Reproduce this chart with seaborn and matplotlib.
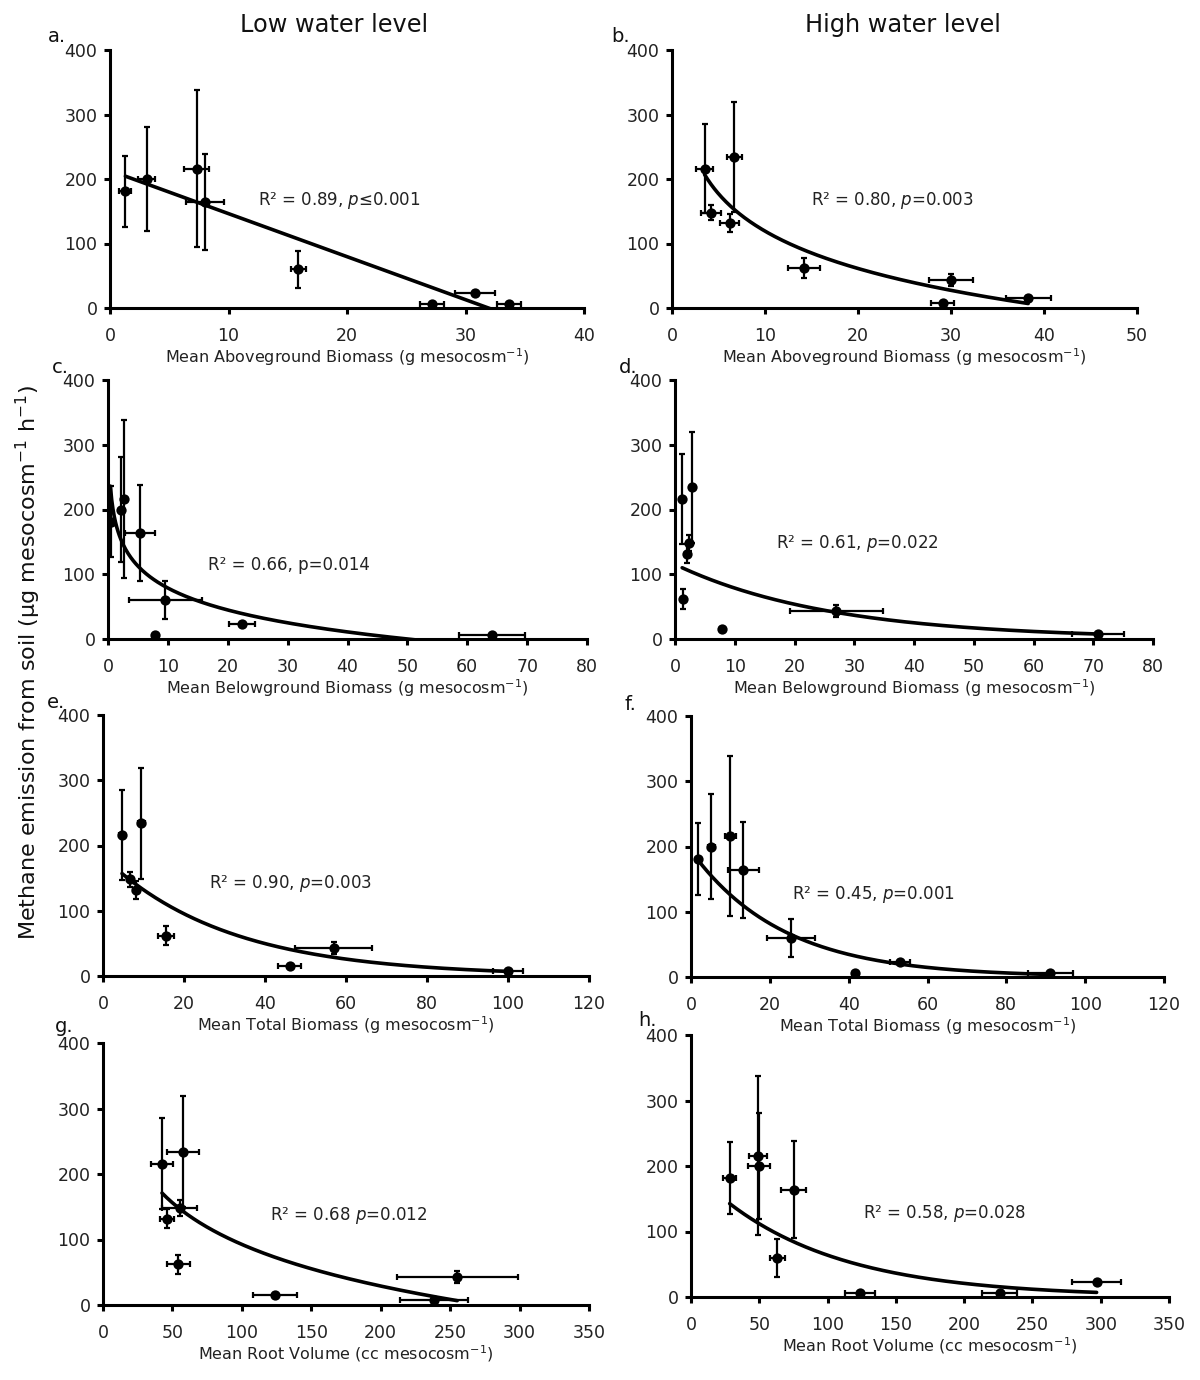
import numpy as np
import matplotlib
matplotlib.use("Agg")
import matplotlib.pyplot as plt
import seaborn as sns

# Methane emission means (same 8 treatments in every panel)
y_low = [181, 200, 216, 164, 60, 6, 23, 6]
y_low_err = [55, 81, 122, 74, 29, 2, 3, 2]
y_high = [216, 234, 148, 132, 62, 16, 43, 7]
y_high_err = [69, 85, 12, 14, 15, 2, 9, 2]

# x values per panel (a..h), in the order of the y arrays
x_a = [1.3, 3.1, 7.3, 8.0, 15.9, 27.2, 30.8, 33.7]
xe_a = [0.5, 0.7, 1.05, 1.6, 0.6, 1.0, 1.7, 1.0]
x_b = [3.5, 6.7, 4.2, 6.2, 14.2, 38.3, 30.0, 29.1]
xe_b = [0.95, 0.8, 1.1, 1.0, 1.7, 2.4, 2.4, 1.2]
x_c = [0.5, 2.1, 2.7, 5.3, 9.6, 7.9, 22.4, 64.2]
xe_c = [0.3, 0.3, 0.3, 2.5, 6.1, 0.2, 2.2, 5.5]
x_d = [1.2, 2.9, 2.4, 2.0, 1.4, 7.8, 27.0, 70.8]
xe_d = [0.2, 0.3, 0.3, 0.3, 0.2, 0.2, 7.8, 4.4]
x_e = [4.7, 9.5, 6.6, 8.1, 15.6, 46.1, 57.0, 100.1]
xe_e = [0.7, 0.8, 0.6, 0.8, 1.9, 2.8, 9.5, 3.7]
x_f = [1.8, 5.2, 10.0, 13.3, 25.4, 41.5, 53.0, 91.2]
xe_f = [0.6, 0.8, 1.3, 4.0, 6.1, 0.3, 2.5, 5.7]
x_g = [42.5, 57.4, 55.2, 46.1, 54.3, 124, 255.1, 238.3]
xe_g = [7.8, 11.4, 12.5, 5.2, 8.2, 16, 43.6, 24.4]
x_h = [28.3, 49.5, 48.8, 75.1, 63.2, 123.9, 297, 225.9]
xe_h = [4.9, 8.0, 6.6, 9.3, 5.7, 11, 18, 12.6]

panel_x = [x_a, x_b, x_c, x_d, x_e, x_f, x_g, x_h]
panel_xe = [xe_a, xe_b, xe_c, xe_d, xe_e, xe_f, xe_g, xe_h]
panel_y = [y_low, y_high, y_low, y_high, y_high, y_low, y_high, y_low]
panel_ye = [y_low_err, y_high_err, y_low_err, y_high_err,
            y_high_err, y_low_err, y_high_err, y_low_err]

# trendlines: lin y=a*x+b, log y=a*ln(x)+b, exp y=a*exp(b*x)
fit_kind = ['lin', 'log', 'log', 'exp', 'exp', 'exp', 'log', 'exp']
fit_a = [-6.67, -83.6, -48.9, 115.2, 183, 193.4, -91.7, 195.8]
fit_b = [213, 311.7, 191.3, -0.0382, -0.0326, -0.043, 514.8, -0.01121]
fit_range = [(1.3, 33.7), (3.5, 38.3), (0.4, 64.2), (1.2, 70.8),
             (4.7, 100.1), (1.8, 91.2), (42.5, 255.1), (28.3, 297)]

stats = [r"R² = 0.89, $\mathit{p}$≤0.001", r"R² = 0.80, $\mathit{p}$=0.003",
         "R² = 0.66, p=0.014", r"R² = 0.61, $\mathit{p}$=0.022",
         r"R² = 0.90, $\mathit{p}$=0.003", r"R² = 0.45, $\mathit{p}$=0.001",
         r"R² = 0.68 $\mathit{p}$=0.012", r"R² = 0.58, $\mathit{p}$=0.028"]
stat_pos = [(12.5, 167), (14.9, 167), (16.7, 115), (16.9, 148),
            (26.1, 141), (25.6, 127), (120, 136), (125.6, 127)]

letters = ['a.', 'b.', 'c.', 'd.', 'e.', 'f.', 'g.', 'h.']
xlabels = [r"Mean Aboveground Biomass (g mesocosm$^{-1}$)"] * 2 + \
          [r"Mean Belowground Biomass (g mesocosm$^{-1}$)"] * 2 + \
          [r"Mean Total Biomass (g mesocosm$^{-1}$)"] * 2 + \
          [r"Mean Root Volume (cc mesocosm$^{-1}$)"] * 2
x_max = [40, 50, 80, 80, 120, 120, 350, 350]
x_step = [10, 10, 10, 10, 20, 20, 50, 50]

# axes boxes in pixels: left, top, right, bottom
W, H = 1200, 1380
boxes = [(110, 50, 584, 308), (672, 50, 1137, 308),
         (108, 380, 587, 639), (675, 380, 1153, 639),
         (103, 715, 589, 976), (691, 716, 1164, 977),
         (103, 1043, 589, 1305), (691, 1035, 1169, 1297)]
letter_pos = [(57, 37), (621, 37), (60, 368), (628, 368),
              (56, 703), (630, 704), (64, 1026), (647, 1020)]

sns.set_style("ticks")
plt.rcParams['font.family'] = ['DejaVu Sans']
plt.rcParams['mathtext.fontset'] = 'dejavusans'

fig = plt.figure(figsize=(12, 13.8), dpi=100)

for i in range(8):
    l, t, r, b = boxes[i]
    ax = fig.add_axes([l / W, 1 - b / H, (r - l) / W, (b - t) / H])

    # trendline
    lo, hi = fit_range[i]
    xx = np.linspace(lo, hi, 300)
    if fit_kind[i] == 'lin':
        yy = fit_a[i] * xx + fit_b[i]
    elif fit_kind[i] == 'log':
        yy = fit_a[i] * np.log(xx) + fit_b[i]
    else:
        yy = fit_a[i] * np.exp(fit_b[i] * xx)
    sns.lineplot(x=xx, y=yy, ax=ax, color='black', linewidth=2.6,
                 sort=False, estimator=None, zorder=2)

    ax.errorbar(panel_x[i], panel_y[i], xerr=panel_xe[i], yerr=panel_ye[i],
                fmt='none', ecolor='black', elinewidth=1.6, capsize=2.5,
                capthick=1.6, zorder=3)
    sns.scatterplot(x=panel_x[i], y=panel_y[i], ax=ax, color='black', s=55,
                    linewidth=0, zorder=4, legend=False)

    ax.text(stat_pos[i][0], stat_pos[i][1], stats[i], fontsize=12,
            ha='left', va='center', color='#222222')

    ax.set_xlim(0, x_max[i])
    ax.set_ylim(0, 400)
    ax.set_xticks(np.arange(0, x_max[i] + 1, x_step[i]))
    ax.set_yticks([0, 100, 200, 300, 400])
    sns.despine(ax=ax)
    for s in ['left', 'bottom']:
        ax.spines[s].set_linewidth(2.2)
        ax.spines[s].set_color('black')
    ax.tick_params(axis='both', length=4, width=2.2, labelsize=12.5,
                   labelcolor='#222222', color='black')
    ax.tick_params(axis='x', pad=9.5)
    ax.tick_params(axis='y', pad=5)
    ax.set_xlabel(xlabels[i], fontsize=11.5, labelpad=1, color='#222222')
    ax.set_ylabel('')

    fig.text(letter_pos[i][0] / W, 1 - letter_pos[i][1] / H, letters[i],
             fontsize=14, ha='center', va='center', color='#111111')

fig.text(334 / W, 1 - 25 / H, "Low water level", fontsize=17.3,
         ha='center', va='center', color='#111111')
fig.text(903 / W, 1 - 25 / H, "High water level", fontsize=17.3,
         ha='center', va='center', color='#111111')
fig.text(28 / W, 1 - 662 / H,
         r"Methane emission from soil (µg mesocosm$^{-1}$ h$^{-1}$)",
         fontsize=16, rotation=90, ha='center', va='center', color='#111111')

fig.savefig("out.png", dpi=100)
